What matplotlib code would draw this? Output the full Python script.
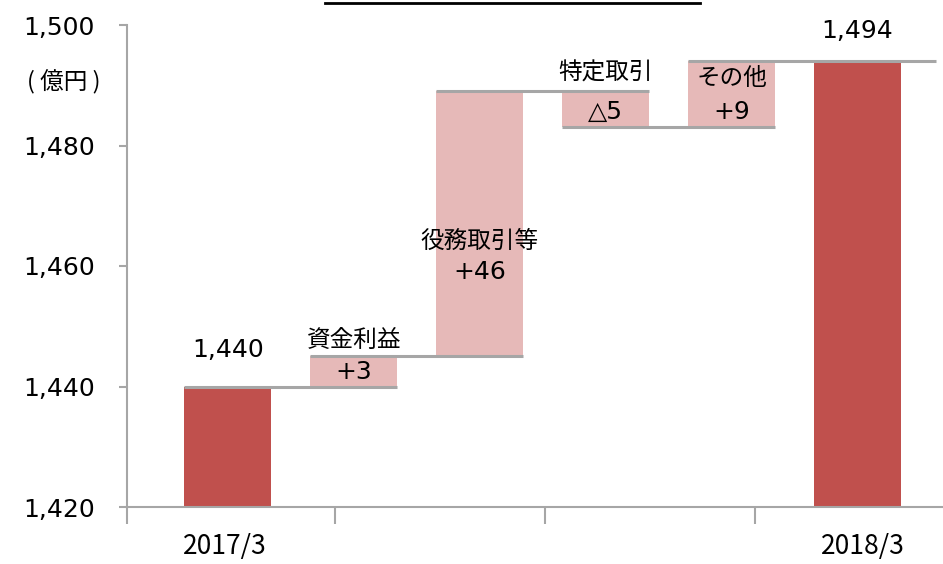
import numpy as np
import matplotlib.pyplot as plt
from matplotlib.lines import Line2D

plt.rcParams['font.family'] = ['DejaVu Sans', 'Noto Sans CJK JP']

# datos
etiquetas = ['2017/3', '資金利益', '役務取引等', '特定取引', 'その他', '2018/3']
base = [1420, 1440, 1445, 1483, 1483, 1420]      # inicio de cada barra
tope = [1440, 1445, 1489, 1489, 1494, 1494]      # fin de cada barra
textos_var = ['', '+3', '+46', '△5', '+9', '']
es_total = [True, False, False, False, False, True]

c_total = '#C0504D'
c_var = '#E6B9B8'
c_gris = '#A6A6A6'
fam_jp = ['Noto Sans CJK JP', 'DejaVu Sans']

fig = plt.figure(figsize=(9.43, 5.64), dpi=100)
ax = fig.add_axes([127 / 943, 57 / 564, 816 / 943, 482 / 564])

x = np.arange(len(etiquetas))
ancho = 0.69
alturas = [t - b for t, b in zip(tope, base)]
colores = [c_total if t else c_var for t in es_total]
ax.bar(x, alturas, bottom=base, width=ancho, color=colores, zorder=2)

# lineas conectoras
niveles = [1440, 1445, 1489, 1483, 1494]
for i, nv in enumerate(niveles):
    x0 = x[i] - ancho / 2
    x1 = x[i + 1] + ancho / 2 if i < 4 else x[5] + 0.62
    ax.plot([x0, x1], [nv, nv], color=c_gris, lw=2.2, zorder=3, solid_capstyle='butt')

# textos
ax.text(0, 1444, '1,440', ha='center', va='bottom', fontsize=18)
ax.text(5, 1497, '1,494', ha='center', va='bottom', fontsize=18)
ax.text(1, 1447.6, '資金利益', ha='center', va='center', fontsize=17, family=fam_jp)
ax.text(1, 1442.4, textos_var[1], ha='center', va='center', fontsize=18)
ax.text(2, 1464.0, '役務取引等', ha='center', va='center', fontsize=17, family=fam_jp)
ax.text(2, 1459.0, textos_var[2], ha='center', va='center', fontsize=18)
ax.text(3, 1492.0, '特定取引', ha='center', va='center', fontsize=17, family=fam_jp)
ax.text(3, 1485.6, textos_var[3], ha='center', va='center', fontsize=18)
ax.text(4, 1491.2, 'その他', ha='center', va='center', fontsize=17, family=fam_jp)
ax.text(4, 1485.6, textos_var[4], ha='center', va='center', fontsize=18)
ax.text(-1.30, 1490.5, '( 億円 )', ha='center', va='center', fontsize=17, family=fam_jp)

# ejes
ax.set_ylim(1420, 1500)
ax.set_xlim(-0.80, 5.678)
ax.set_yticks(np.arange(1420, 1501, 20))
ax.set_yticklabels(['{:,}'.format(v) for v in range(1420, 1501, 20)], fontsize=18)
ax.set_xticks([-0.80, 0.854, 2.52, 4.186])
ax.set_xticklabels([])
ax.set_xticks([-0.02, 5.04], minor=True)
ax.set_xticklabels(['2017/3', '2018/3'], minor=True, fontsize=19, family=fam_jp)
ax.tick_params(axis='x', which='major', length=12, color=c_gris, width=1.5)
ax.tick_params(axis='x', which='minor', length=0, pad=19)
ax.tick_params(axis='y', length=6, color=c_gris, width=1.5, pad=17)
for lado in ['top', 'right']:
    ax.spines[lado].set_visible(False)
for lado in ['left', 'bottom']:
    ax.spines[lado].set_color(c_gris)
    ax.spines[lado].set_linewidth(1.5)

# titulo (cortado arriba)
fig.text(0.545, 1 - 3 / 564, '業務粗利益の増減要因', ha='center', va='bottom', fontsize=18,
         family=fam_jp)
fig.add_artist(Line2D([325 / 943, 700 / 943], [1 - 3 / 564, 1 - 3 / 564],
                      transform=fig.transFigure, color='black', lw=2))

plt.savefig('out.png', dpi=100)
